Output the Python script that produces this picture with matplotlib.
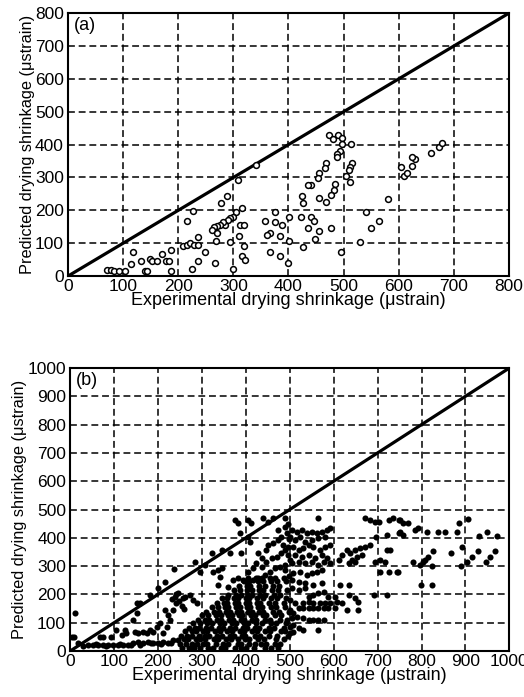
import numpy as np
import matplotlib.pyplot as plt
plt.switch_backend('agg')
plt.rcParams['font.family'] = ['Liberation Sans', 'DejaVu Sans']

# (a) experimental vs predicted, open circles
pts_a = [
    (71, 18), (77, 18), (84, 16), (93, 16), (104, 16), (118, 74), (115, 37), (133, 47),
    (139, 16), (144, 16), (148, 51), (153, 46), (162, 46), (171, 66), (178, 47), (183, 47),
    (187, 80), (186, 16), (209, 92), (215, 166), (227, 197), (215, 95), (222, 100), (229, 95),
    (235, 95), (236, 120), (248, 74), (235, 47), (225, 21),
    (341, 337), (309, 293), (288, 245), (277, 223), (315, 208), (305, 194), (300, 181), (294, 178),
    (291, 170), (285, 155), (281, 165), (276, 155), (271, 152), (265, 148), (261, 140), (270, 132),
    (269, 107), (312, 155), (319, 155), (311, 122), (293, 103), (319, 91), (316, 60), (322, 50),
    (267, 40), (299, 20), (358, 167), (376, 194), (376, 165), (388, 155), (367, 132), (361, 124),
    (385, 121), (401, 181), (401, 106), (367, 74), (384, 60), (400, 40), (422, 181), (424, 245),
    (427, 222), (427, 89),
    (474, 429), (480, 417), (490, 429), (498, 419), (497, 402), (514, 402), (494, 380), (488, 371),
    (488, 361), (468, 345), (466, 330), (456, 315), (454, 297), (441, 277), (435, 277), (516, 343),
    (512, 333), (509, 322), (505, 304), (511, 287), (485, 279), (482, 261), (478, 246), (469, 226),
    (456, 236), (441, 180), (447, 168), (435, 145), (456, 137), (477, 145), (448, 114), (495, 74),
    (580, 233), (540, 195), (565, 168), (550, 145), (529, 105), (604, 333), (609, 304), (615, 315),
    (624, 336), (630, 356), (624, 363), (658, 373), (674, 393), (679, 404),
]

# (b) larger database, filled dots
pts_b_low = [
    (5, 51), (9, 51), (11, 133), (18, 27), (30, 18), (41, 21), (52, 21), (64, 21), (68, 51),
    (75, 51), (75, 21), (87, 21), (94, 51), (98, 21), (105, 74), (109, 21), (117, 57), (121, 21),
    (125, 74), (128, 62), (132, 21), (143, 110), (144, 27), (147, 68), (151, 133), (151, 168),
    (155, 62), (155, 33), (159, 168), (166, 68), (166, 27), (174, 62), (178, 33), (181, 198),
    (181, 74), (189, 68), (189, 27), (197, 86), (199, 221), (200, 27), (204, 98), (212, 62),
    (212, 33), (216, 245), (216, 145), (220, 86), (223, 127), (223, 27), (227, 110), (235, 145),
    (235, 38), (237, 290), (238, 192), (242, 168), (246, 204), (246, 38), (232, 185), (240, 200),
    (248, 175), (255, 160), (262, 190), (258, 150), (58, 24), (82, 18), (114, 25), (138, 20),
    (160, 22), (184, 30), (206, 24), (230, 30),
]

# dense cloud, rows of (predicted, [experimental values])
rows_b = [
    (12, [255, 271, 283, 296, 314, 326, 343, 352, 376, 388, 401, 418, 443, 457, 473]),
    (26, [250, 263, 278, 288, 303, 312, 333, 347, 359, 381, 390, 408, 421, 435, 446, 466, 478]),
    (41, [258, 268, 287, 296, 307, 327, 336, 355, 366, 382, 397, 407, 428, 442, 468, 486]),
    (53, [252, 266, 278, 293, 308, 316, 335, 345, 363, 373, 391, 399, 421, 433, 452, 470, 497]),
    (69, [262, 277, 286, 303, 311, 330, 340, 358, 368, 387, 396, 413, 426, 443, 455, 480, 490]),
    (82, [270, 284, 293, 310, 320, 338, 348, 365, 376, 393, 402, 420, 430, 453, 463, 487]),
    (99, [280, 296, 312, 323, 340, 350, 368, 378, 395, 406, 423, 436, 457, 468, 492]),
    (111, [290, 307, 316, 334, 343, 362, 370, 388, 396, 415, 423, 443, 455, 477, 493]),
    (127, [300, 313, 332, 343, 360, 368, 385, 392, 412, 420, 438, 446, 467, 480]),
    (139, [310, 327, 338, 355, 363, 380, 388, 405, 413, 430, 440, 462, 476, 498]),
    (156, [322, 336, 352, 360, 377, 386, 403, 410, 427, 436, 457, 468, 490]),
    (168, [335, 350, 358, 375, 383, 400, 408, 425, 433, 452, 466, 487]),
    (186, [345, 356, 374, 383, 400, 408, 426, 438, 457, 470, 492]),
    (199, [360, 377, 388, 405, 413, 432, 443, 465, 478]),
    (216, [372, 386, 402, 413, 430, 440, 460, 473, 494]),
    (229, [385, 402, 410, 430, 443, 462, 476]),
    (246, [395, 408, 427, 438, 457, 470, 492]),
    (259, [405, 422, 436, 455, 466, 487]),
]

pts_b_high = [
    (375, 463), (381, 451), (405, 463), (411, 451), (440, 469), (451, 457), (462, 469), (474, 428),
    (489, 439), (405, 404), (409, 386), (386, 416), (390, 345), (364, 345), (345, 357), (322, 345),
    (284, 316), (295, 280), (307, 304), (326, 280), (337, 286), (345, 292), (336, 233), (341, 263),
    (428, 345), (436, 327), (447, 357), (451, 375), (462, 381), (474, 392), (481, 404), (493, 416),
    (424, 310), (436, 298), (447, 316), (459, 327), (470, 333), (481, 345), (489, 357), (497, 369),
    (405, 280), (417, 292), (360, 227), (371, 251), (383, 257), (394, 251), (405, 245), (417, 251),
    (428, 257), (443, 269), (455, 280), (466, 292), (478, 298), (489, 304), (257, 186), (273, 198),
    (280, 180), (288, 168), (495, 450), (490, 470), (498, 395), (485, 375), (495, 340), (500, 320),
    (490, 285), (498, 265),
]

pts_b_right = [
    (672, 469), (683, 463), (694, 457), (703, 457), (725, 463), (736, 469), (748, 463), (565, 469),
    (696, 404), (721, 410), (748, 416),
    (505, 428), (516, 422), (527, 428), (539, 416), (550, 422), (562, 416), (573, 422), (584, 428),
    (592, 434), (501, 404), (512, 392), (524, 404), (535, 386), (550, 392), (565, 398), (580, 404),
    (508, 369), (520, 357), (531, 363), (543, 375), (554, 369), (569, 357), (580, 369), (592, 375),
    (512, 339), (527, 333), (543, 339), (558, 327), (573, 339), (584, 327),
    (505, 310), (520, 316), (535, 310), (550, 316), (565, 304), (577, 316), (592, 310),
    (611, 322), (618, 339), (630, 357), (637, 345), (641, 322), (649, 357), (660, 363), (672, 369),
    (683, 375), (653, 333), (664, 339), (634, 310), (649, 316),
    (694, 316), (706, 322), (717, 316), (721, 357), (729, 357),
    (706, 280), (725, 280), (744, 280),
    (508, 274), (524, 280), (539, 269), (550, 274), (562, 280), (573, 286),
    (505, 251), (520, 245), (535, 239), (554, 233), (573, 239), (615, 233), (634, 233),
    (505, 221), (520, 216), (535, 221),
    (543, 192), (554, 198), (565, 204), (577, 210), (588, 192), (603, 192), (634, 198), (649, 186),
    (656, 174), (691, 198), (721, 198),
    (501, 180), (512, 168), (531, 168), (543, 174), (554, 168), (569, 168), (580, 168), (592, 168),
    (607, 174), (618, 168), (656, 145), (630, 145),
    (501, 145), (508, 133), (520, 151), (531, 151), (543, 151), (554, 151), (565, 151), (577, 151),
    (588, 151), (603, 151),
    (505, 115), (516, 121), (531, 115), (543, 110), (554, 110), (565, 110), (577, 110),
    (501, 86), (508, 92), (520, 80), (531, 74), (565, 74), (501, 62), (508, 68),
    (751, 463), (758, 451), (770, 453), (751, 422), (758, 409), (785, 428), (791, 434), (812, 422),
    (838, 422), (853, 422), (880, 422), (886, 453), (905, 465), (931, 406), (950, 422), (973, 406),
    (747, 280), (781, 316), (796, 304), (804, 316), (809, 322), (815, 333), (827, 355), (823, 302),
    (868, 345), (889, 302), (893, 369), (903, 316), (914, 333), (928, 355), (946, 316), (957, 333),
    (967, 355), (799, 233), (824, 233),
]

ax_x_a, ax_y_a = zip(*pts_a)
pts_b = pts_b_low + [(x, y) for y, xs in rows_b for x in xs] + pts_b_high + pts_b_right
ax_x_b, ax_y_b = zip(*pts_b)

fig = plt.figure(figsize=(5.24, 6.97), dpi=100)

def style_axes(ax, lim, step, tag):
    ax.plot([0, lim], [0, lim], '-', color='k', lw=2.3, zorder=2)
    ax.set_xlim(0, lim)
    ax.set_ylim(0, lim)
    ax.set_xticks(np.arange(0, lim + 1, step))
    ax.set_yticks(np.arange(0, lim + 1, step))
    ax.grid(True, color='k', ls=(0, (4.5, 2.5)), lw=1.1)
    ax.tick_params(direction='in', length=0, labelsize=12.5)
    ax.tick_params(axis='x', pad=2)
    ax.tick_params(axis='y', pad=3)
    for s in ax.spines.values():
        s.set_linewidth(1.5)
    ax.set_xlabel('Experimental drying shrinkage (\u03bcstrain)', fontsize=13, labelpad=-1)
    ax.set_ylabel('Predicted drying shrinkage (\u03bcstrain)', fontsize=11.8, labelpad=0)
    ax.text(0.012, 0.985, tag, transform=ax.transAxes, ha='left', va='top', fontsize=13,
            bbox=dict(fc='white', ec='none', pad=1))

ax1 = fig.add_axes([0.130, 0.604, 0.841, 0.377])
ax1.plot(ax_x_a, ax_y_a, 'o', ms=4.2, mfc='white', mec='k', mew=1.1, zorder=3)
style_axes(ax1, 800, 100, '(a)')

ax2 = fig.add_axes([0.134, 0.066, 0.838, 0.406])
ax2.plot(ax_x_b, ax_y_b, 'o', ms=4.4, mfc='k', mec='k', mew=0, zorder=3)
style_axes(ax2, 1000, 100, '(b)')

fig.savefig('out.png', dpi=100)
